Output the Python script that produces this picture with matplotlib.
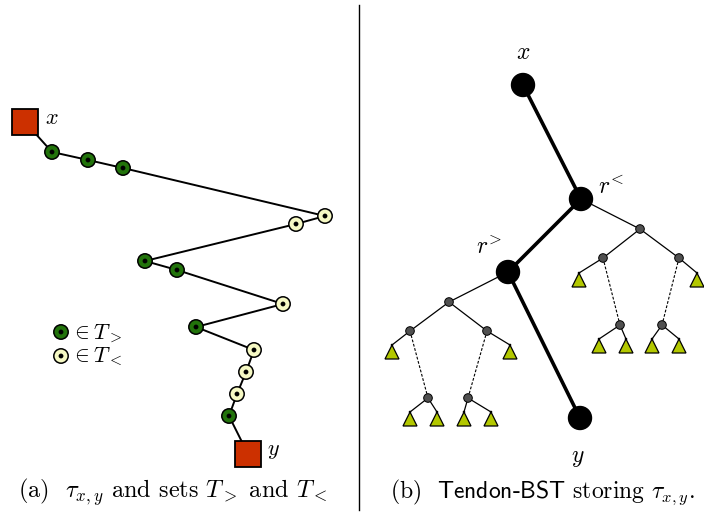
import matplotlib
matplotlib.use("Agg")
import matplotlib.pyplot as plt
from matplotlib.patches import Circle, Rectangle, Polygon

plt.rcParams['mathtext.fontset'] = 'cm'

# ---- panel (a): path tau_{x,y} (pixel coords) ----
squareX = [(25, 122), (248, 454)]
pathPts = [(52, 152), (88, 160), (123, 168), (325, 216), (296, 224),
           (145, 261), (177, 270), (283, 304), (196, 327), (254, 350),
           (246, 372), (237, 394), (229, 416)]
pathSets = [">", ">", ">", "<", "<", ">", ">", "<", ">", "<", "<", "<", ">"]
legendPts = [(61, 332, ">"), (61, 356, "<")]

# ---- panel (b): Tendon-BST ----
bigNodes = {"x": (523, 85), "rl": (581, 199), "rg": (508, 272), "y": (580, 418)}
spine = ["x", "rl", "rg", "y"]
smallNodes = {"a": (449, 302), "b": (410, 331), "c": (487, 331),
              "d": (428, 398), "e": (468, 398),
              "f": (640, 229), "g": (603, 258), "h": (679, 258),
              "i": (620, 325), "j": (662, 325)}
solidEdges = [("rg", "a"), ("a", "b"), ("a", "c"), ("rl", "f"), ("f", "g"), ("f", "h")]
dashEdges = [("b", "d"), ("c", "e"), ("g", "i"), ("h", "j")]
# (parent, triangle apex x, apex y)
triangles = [("b", 392, 345), ("c", 510, 345),
             ("d", 410, 412), ("d", 437, 412), ("e", 464, 412), ("e", 491, 412),
             ("g", 579, 273), ("h", 697, 273),
             ("i", 599, 339), ("i", 626, 339), ("j", 652, 339), ("j", 679, 339)]

darkGreen = "#22730b"
lightYellow = "#f6f9c4"
red = "#cc3000"
triColor = "#b3c800"

fig = plt.figure(figsize=(7.04, 5.12), dpi=100)
ax = fig.add_axes([0, 0, 1, 1])
ax.set_xlim(0, 704)
ax.set_ylim(512, 0)
ax.axis("off")

def setNode(ax, x, y, kind):
    fc = darkGreen if kind == ">" else lightYellow
    ax.add_patch(Circle((x, y), 7.2, facecolor=fc, edgecolor="black", lw=1.1, zorder=3))
    ax.add_patch(Circle((x, y), 2.4, facecolor="black", edgecolor="none", zorder=4))

# path line
xs = [squareX[0][0]] + [p[0] for p in pathPts] + [squareX[1][0]]
ys = [squareX[0][1]] + [p[1] for p in pathPts] + [squareX[1][1]]
ax.plot(xs, ys, color="black", lw=1.4, zorder=1)
for (px, py), s in zip(pathPts, pathSets):
    setNode(ax, px, py, s)
for sx, sy in squareX:
    ax.add_patch(Rectangle((sx - 13, sy - 13), 26, 26, facecolor=red, edgecolor="black", lw=1.3, zorder=3))
ax.text(45, 118, "$x$", fontsize=16, va="center", ha="left")
ax.text(267, 451, "$y$", fontsize=16, va="center", ha="left")

for lx, ly, s in legendPts:
    setNode(ax, lx, ly, s)
ax.text(71, 333, r"$\in T_{>}$", fontsize=16, va="center", ha="left")
ax.text(71, 357, r"$\in T_{<}$", fontsize=16, va="center", ha="left")

ax.text(173, 492, r"(a)  $\tau_{x,y}$ and sets $T_{>}$ and $T_{<}$", fontsize=17.5,
        family="cmr10", ha="center", va="center")

# divider
ax.plot([359, 359], [5, 510], color="black", lw=1.0)

# spine
for a, b in zip(spine[:-1], spine[1:]):
    (x0, y0), (x1, y1) = bigNodes[a], bigNodes[b]
    ax.plot([x0, x1], [y0, y1], color="black", lw=2.6, zorder=1)
for k, (bx, by) in bigNodes.items():
    ax.add_patch(Circle((bx, by), 11.5, facecolor="black", edgecolor="black", zorder=3))

allNodes = dict(bigNodes)
allNodes.update(smallNodes)
for a, b in solidEdges:
    (x0, y0), (x1, y1) = allNodes[a], allNodes[b]
    ax.plot([x0, x1], [y0, y1], color="black", lw=0.9, zorder=1)
for a, b in dashEdges:
    (x0, y0), (x1, y1) = allNodes[a], allNodes[b]
    ax.plot([x0, x1], [y0, y1], color="black", lw=0.8, ls=(0, (2.5, 1.5)), zorder=1)
for p, tx, ty in triangles:
    (x0, y0) = allNodes[p]
    ax.plot([x0, tx], [y0, ty], color="black", lw=0.9, zorder=1)
    ax.add_patch(Polygon([(tx, ty), (tx - 7, ty + 14), (tx + 7, ty + 14)], closed=True,
                         facecolor=triColor, edgecolor="black", lw=0.9, zorder=2))
    ax.add_patch(Circle((tx, ty), 1.3, facecolor="black", edgecolor="none", zorder=3))
for k, (nx, ny) in smallNodes.items():
    ax.add_patch(Circle((nx, ny), 4.3, facecolor="#505050", edgecolor="black", lw=0.7, zorder=3))

ax.text(523, 52, "$x$", fontsize=17, ha="center", va="center")
ax.text(578, 457, "$y$", fontsize=17, ha="center", va="center")
ax.text(598, 187, "$r^{\!<}$", fontsize=17, ha="left", va="center")
ax.text(476, 247, "$r^{\!>}$", fontsize=17, ha="left", va="center")

ax.text(542, 492, r"(b)  $\mathsf{Tendon}$-$\mathsf{BST}$ storing $\tau_{x,y}$.", fontsize=17,
        family="cmr10", ha="center", va="center")

fig.savefig("out.png", dpi=100)
